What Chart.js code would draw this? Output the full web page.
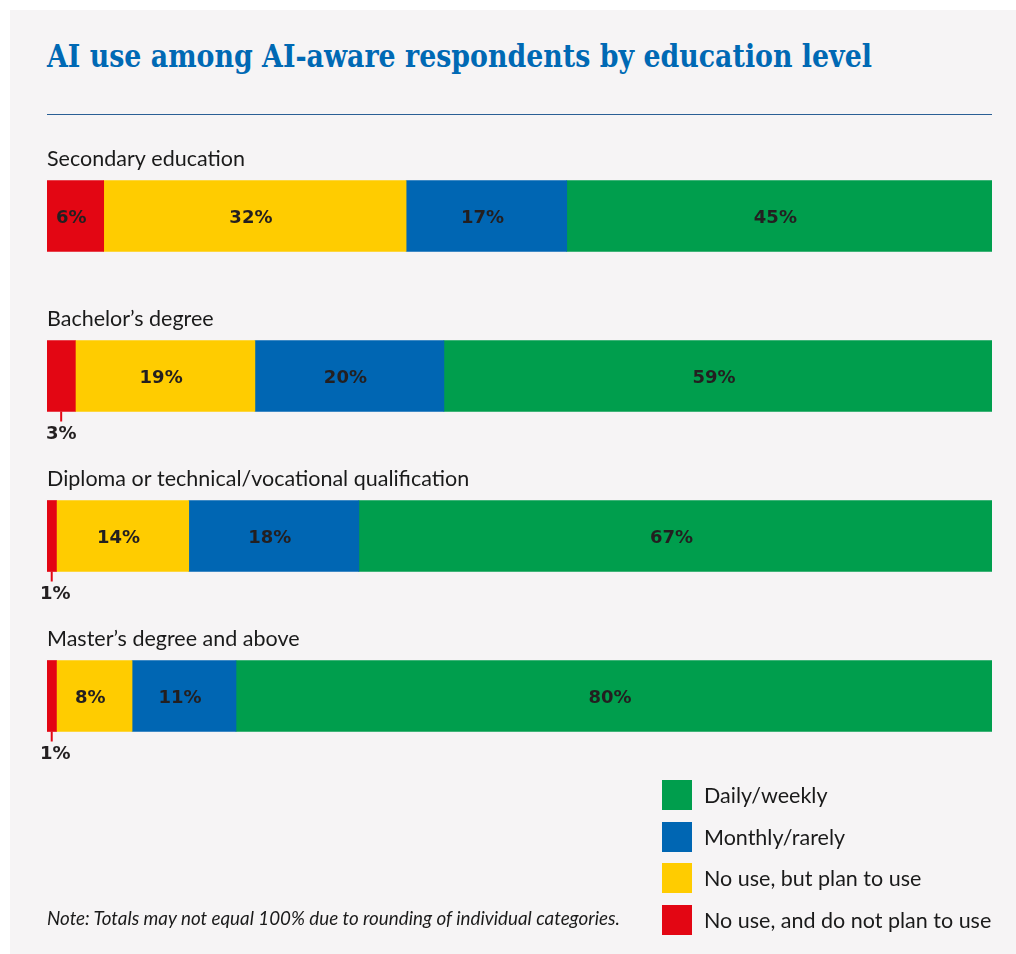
<!DOCTYPE html>
<html>
<head>
<meta charset="utf-8">
<script src="https://cdn.jsdelivr.net/npm/chart.js@4/dist/chart.umd.min.js"></script>
<style>
  html, body { margin: 0; padding: 0; background: #ffffff; }
  body { width: 1016px; height: 954px; position: relative; overflow: hidden; }
  .panel { position: absolute; left: 10px; top: 10px; right: 0; bottom: 0; background: #f6f4f5; }
  .title {
    position: absolute; left: 47px; top: 41px; margin: 0;
    font-family: "DejaVu Serif", serif; font-weight: bold; font-size: 31px; line-height: 31px;
    color: #0069b4; white-space: nowrap; transform-origin: 0 0;
  }
  .rule { position: absolute; left: 47px; top: 114px; width: 945px; height: 0; border-top: 1.5px solid #2a5f95; }
  #chart { position: absolute; left: 0; top: 0; }
  .legend { position: absolute; left: 662px; top: 780px; font-family: Lato, sans-serif; font-size: 21.5px; color: #1a1a1a; }
  .legend div { height: 30px; line-height: 30px; margin-bottom: 11.7px; white-space: nowrap; }
  .legend span { display: inline-block; width: 30px; height: 30px; vertical-align: top; margin-right: 12px; }
  .note {
    position: absolute; left: 47px; top: 906px; font-family: Lato, sans-serif; font-style: italic;
    font-size: 18.8px; color: #1a1a1a; white-space: nowrap;
  }
</style>
</head>
<body>
<div class="panel"></div>
<h1 class="title" id="title">AI use among AI-aware respondents by education level</h1>
<div class="rule"></div>
<canvas id="chart" width="1016" height="954"></canvas>
<div class="legend" id="legend"></div>
<div class="note">Note: Totals may not equal 100% due to rounding of individual categories.</div>

<script>
// ------------------ DATA ------------------
const categories = [
    "Secondary education",
    "Bachelor\u2019s degree",
    "Diploma or technical/vocational qualification",
    "Master\u2019s degree and above"
];
const seriesNames = [
    "No use, and do not plan to use",
    "No use, but plan to use",
    "Monthly/rarely",
    "Daily/weekly"
];
const noPlanValues = [6, 3, 1, 1];
const planValues = [32, 19, 14, 8];
const monthlyValues = [17, 20, 18, 11];
const dailyValues = [45, 59, 67, 80];
const seriesColors = ["#e30613", "#ffcc00", "#0066b3", "#009e4d"];

// ------------------ TITLE ------------------
// squeeze the slab title into the rule's width
const titleEl = document.getElementById("title");
titleEl.style.transform = `scaleX(${825 / titleEl.offsetWidth})`;

// ------------------ LEGEND ------------------
const legendEl = document.getElementById("legend");
// legend lists the series top to bottom in reverse order
[3, 2, 1, 0].forEach(i => {
    const row = document.createElement("div");
    row.innerHTML = `<span style="background:${seriesColors[i]}"></span>${seriesNames[i]}`;
    legendEl.appendChild(row);
});

// ------------------ LABEL PLUGIN ------------------
const barLabels = {
    id: "barLabels",
    afterDatasetsDraw(chart) {
        const ctx = chart.ctx;
        const area = chart.chartArea;
        ctx.save();

        // category names above each bar
        const meta0 = chart.getDatasetMeta(0);
        ctx.font = "21.5px Lato, sans-serif";
        ctx.fillStyle = "#1a1a1a";
        ctx.textAlign = "left";
        ctx.textBaseline = "middle";
        meta0.data.forEach((bar, i) => {
            const p = bar.getProps(["y", "height"], true);
            ctx.fillText(categories[i], area.left, p.y - p.height / 2 - 21);
        });

        // value labels inside segments, small ones get a callout below
        chart.data.datasets.forEach((ds, di) => {
            const meta = chart.getDatasetMeta(di);
            meta.data.forEach((bar, i) => {
                const p = bar.getProps(["x", "y", "base", "height"], true);
                const v = ds.data[i];
                const start = Math.max(Math.min(p.base, p.x), area.left);
                const end = Math.min(Math.max(p.base, p.x), area.right);
                const cx = (start + end) / 2;
                const label = v + "%";
                ctx.fillStyle = "#231f20";
                ctx.textBaseline = "middle";
                ctx.font = "bold 18px 'DejaVu Sans', sans-serif";
                ctx.textAlign = "center";
                if (v >= 5) {
                    ctx.fillText(label, cx - 4, p.y + 2);
                } else {
                    const bottom = p.y + p.height / 2;
                    ctx.strokeStyle = seriesColors[di];
                    ctx.lineWidth = 2;
                    ctx.beginPath();
                    ctx.moveTo(cx, bottom);
                    ctx.lineTo(cx, bottom + 10);
                    ctx.stroke();
                    const w = ctx.measureText(label).width;
                    const tx = Math.max(cx, 40 + w / 2);
                    ctx.fillText(label, tx, bottom + 23);
                }
            });
        });
        ctx.restore();
    }
};

// ------------------ CHART ------------------
const valueSets = [noPlanValues, planValues, monthlyValues, dailyValues];

new Chart(document.getElementById("chart"), {
    type: "bar",
    data: {
        labels: categories,
        datasets: valueSets.map((vals, i) => ({
            label: seriesNames[i],
            data: vals,
            backgroundColor: seriesColors[i],
            borderWidth: 0,
            barThickness: 71
        }))
    },
    options: {
        indexAxis: "y",
        responsive: false,
        animation: false,
        layout: { padding: { left: 47, right: 24, top: 136, bottom: 178 } },
        plugins: {
            legend: { display: false },
            tooltip: { enabled: false }
        },
        scales: {
            x: { stacked: true, min: 0, max: 100, display: false },
            y: { stacked: true, display: false }
        }
    },
    plugins: [barLabels]
});
</script>
</body>
</html>
